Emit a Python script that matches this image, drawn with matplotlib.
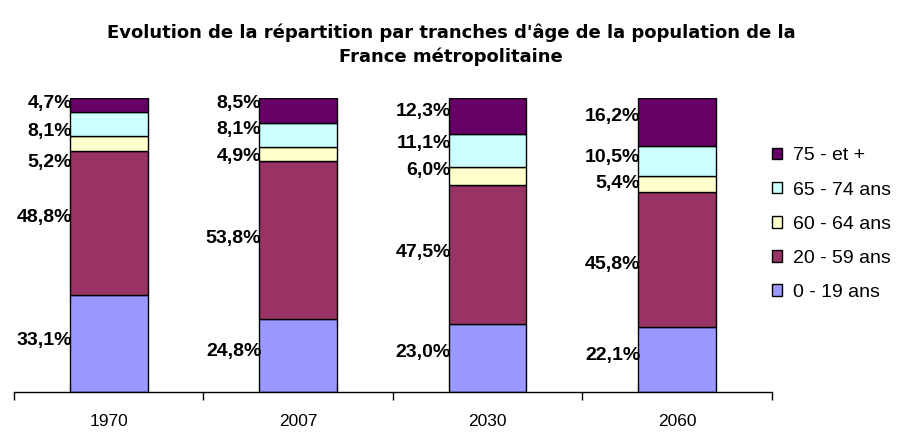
import matplotlib
matplotlib.use("Agg")
import matplotlib.pyplot as plt
import numpy as np
from matplotlib.patches import Patch

years = ["1970", "2007", "2030", "2060"]
series_names = ["0 - 19 ans", "20 - 59 ans", "60 - 64 ans", "65 - 74 ans", "75 - et +"]
v_0_19 = [33.1, 24.8, 23.0, 22.1]
v_20_59 = [48.8, 53.8, 47.5, 45.8]
v_60_64 = [5.2, 4.9, 6.0, 5.4]
v_65_74 = [8.1, 8.1, 11.1, 10.5]
v_75 = [4.7, 8.5, 12.3, 16.2]
colors = ["#9999FF", "#993366", "#FFFFCC", "#CCFFFF", "#660066"]
# label vertical shift from segment centre (pixels, positive = down)
label_shift = [
    [-3, -5, 19, 8, -1],
    [-4, -2, 3, -5, -7],
    [-6, -2, -5, -7, -5],
    [-4, 5, -1, -4, -5],
]

data = np.array([v_0_19, v_20_59, v_60_64, v_65_74, v_75])
shares = data / data.sum(axis=0) * 100

plt.rcParams['font.family'] = ['Liberation Sans', 'DejaVu Sans']
fig = plt.figure(figsize=(9.02, 4.33), dpi=100)
ax = fig.add_axes([0.0155, 0.0947, 0.84, 0.679])

x = np.arange(len(years))
width = 0.41
bottom = np.zeros(len(years))
for i, name in enumerate(series_names):
    ax.bar(x, shares[i], width, bottom=bottom, color=colors[i], edgecolor="black",
           linewidth=1.0, label=name)
    for j in range(len(years)):
        yc = bottom[j] + shares[i][j] / 2
        ax.annotate(f"{data[i][j]:.1f}%".replace(".", ","),
                    xy=(x[j] - width / 2, yc),
                    xytext=(1.5, -label_shift[j][i] * 0.72), textcoords="offset points",
                    ha="right", va="center", fontsize=14, fontweight="bold")
    bottom += shares[i]

ax.set_xlim(-0.5, len(years) - 0.5)
ax.set_ylim(0, 100)
for s in ["top", "right", "left"]:
    ax.spines[s].set_visible(False)
ax.spines["bottom"].set_linewidth(1.0)
ax.set_yticks([])
ax.set_xticks(x)
ax.set_xticklabels(years, fontsize=12.5)
ax.tick_params(axis="x", which="major", length=0, pad=16)
ax.set_xticks(np.arange(-0.5, len(years)), minor=True)
ax.tick_params(axis="x", which="minor", length=6, width=1.0, direction="out")

handles = [Patch(facecolor=colors[i], edgecolor="black", label=series_names[i])
           for i in range(len(series_names))][::-1]
fig.legend(handles=handles, loc="upper left", bbox_to_anchor=(0.836, 0.7),
           frameon=False, fontsize=14, handlelength=0.55, handleheight=0.55,
           handletextpad=0.55, labelspacing=0.88)

fig.text(0.5, 0.896, "Evolution de la répartition par tranches d'âge de la population de la\nFrance métropolitaine",
         ha="center", va="center", fontsize=13, fontweight="bold", linespacing=1.35,
         family=["DejaVu Sans"])

fig.savefig("out.png", dpi=100)
